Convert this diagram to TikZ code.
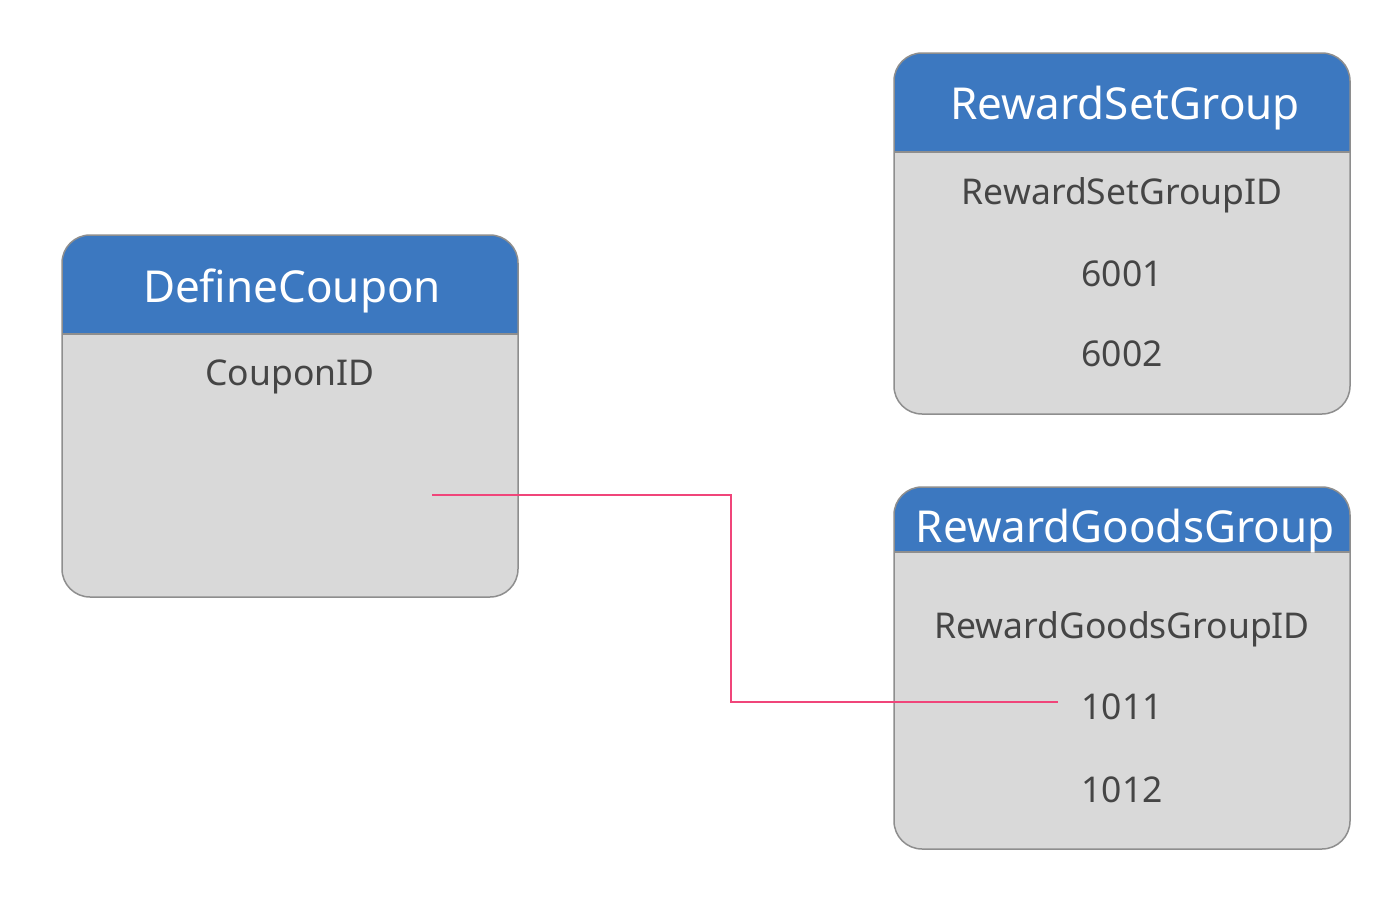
\documentclass[tikz,border=0pt]{standalone}
\usepackage{fontspec}
\setmainfont{Noto Sans}
\definecolor{headblue}{HTML}{3C78C0}
\definecolor{tablegray}{HTML}{D9D9D9}
\definecolor{tableedge}{HTML}{8E8E8E}
\definecolor{cellink}{HTML}{454545}
\definecolor{linkpink}{HTML}{F0457A}
\tikzset{
  tablebox/.style={draw=tableedge,line width=1.5pt,rounded corners=28pt},
  headtext/.style={text=white,font=\fontsize{44}{48}\selectfont},
  celltext/.style={text=cellink,font=\fontsize{35.5}{40}\selectfont},
  link/.style={draw=linkpink,line width=2pt},
}

\begin{document}
\begin{tikzpicture}[x=1pt,y=-1pt]
\useasboundingbox (0,0) rectangle (1398,918);
%%%%%%%%%%%%%%%%%%%% DefineCoupon %%%%%%%%%%%%%%%%%%%%
\begin{scope}
  \fill[tablegray,rounded corners=28pt] (62,235) rectangle (518,597);
  \begin{scope}
    \clip[rounded corners=28pt] (62,235) rectangle (518,597);
    \fill[headblue] (62,235) rectangle (518,334);
  \end{scope}
  \draw[tableedge,line width=1.5pt] (62,334) -- (518,334);
  \draw[tablebox] (62,235) rectangle (518,597);
  \node[headtext] (dcTitle) at (292,291) {DefineCoupon};
  \node[celltext] (dcCoupon) at (290,377) {CouponID};
  \coordinate (dcEnd) at (432,495);
\end{scope}
%%%%%%%%%%%%%%%%%%%% RewardSetGroup %%%%%%%%%%%%%%%%%%%%
\begin{scope}
  \fill[tablegray,rounded corners=28pt] (894,53) rectangle (1350,414);
  \begin{scope}
    \clip[rounded corners=28pt] (894,53) rectangle (1350,414);
    \fill[headblue] (894,53) rectangle (1350,152);
  \end{scope}
  \draw[tableedge,line width=1.5pt] (894,152) -- (1350,152);
  \draw[tablebox] (894,53) rectangle (1350,414);
  \node[headtext] (rsTitle) at (1125,108) {RewardSetGroup};
  \node[celltext] (rsID) at (1122,195) {RewardSetGroupID};
  \node[celltext] (rs6001) at (1122,274) {6001};
  \node[celltext] (rs6002) at (1122,354) {6002};
\end{scope}
%%%%%%%%%%%%%%%%%%%% RewardGoodsGroup %%%%%%%%%%%%%%%%%%%%
\begin{scope}
  \fill[tablegray,rounded corners=28pt] (894,487) rectangle (1350,849);
  \begin{scope}
    \clip[rounded corners=28pt] (894,487) rectangle (1350,849);
    \fill[headblue] (894,487) rectangle (1350,552);
  \end{scope}
  \draw[tableedge,line width=1.5pt] (894,552) -- (1350,552);
  \draw[tablebox] (894,487) rectangle (1350,849);
  \node[headtext] (rgTitle) at (1125,531) {RewardGoodsGroup};
  \node[celltext] (rgID) at (1122,629) {RewardGoodsGroupID};
  \node[celltext] (rg1011) at (1122,707) {1011};
  \node[celltext] (rg1012) at (1122,790) {1012};
\end{scope}
%%%%%%%%%%%%%%%%%%%% link %%%%%%%%%%%%%%%%%%%%
\coordinate (linkBend) at (731,495);
\draw[link] (dcEnd) -- (linkBend) |- ([xshift=-20pt,yshift=5pt]rg1011.west);
\end{tikzpicture}
\end{document}
